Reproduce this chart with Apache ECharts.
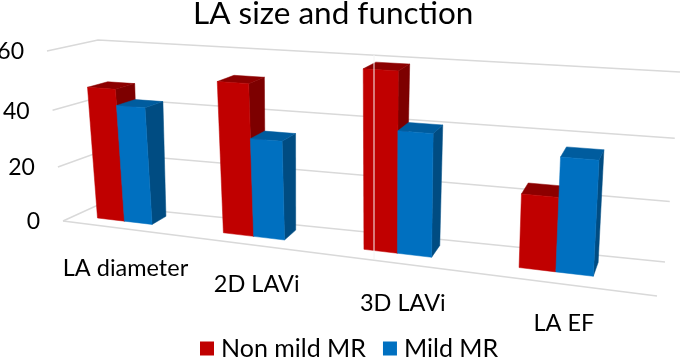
<!DOCTYPE html>
<html><head><meta charset="utf-8">
<style>html,body{margin:0;padding:0;background:#fff}#c{width:685px;height:357px}</style>
<script src="https://cdn.jsdelivr.net/npm/echarts@6/dist/echarts.min.js"></script>
</head><body><div id="c"></div>
<script>
const categories = ['LA diameter','2D LAVi','3D LAVi','LA EF'];
const nonMildMR = [47,52,59,24];
const mildMR = [41.5,34,40.5,36.5];
const yTicks = [0,20,40,60];

const chart = echarts.init(document.getElementById('c'),null,{renderer:'canvas'});
const W=685,H=357;
// screen corners of the tilted 3D box
const box = {
  f0l:[63,221], f0r:[657,296], f1l:[47,51], f1r:[674,91],
  b0l:[98,205], b0r:[665,262], b1l:[98,40], b1r:[680,72]
};
const lerp=(a,b,t)=>[a[0]+(b[0]-a[0])*t,a[1]+(b[1]-a[1])*t];
function project(u,v,z){
  const vv=v*(0.93+0.07*v);
  const f=lerp(lerp(box.f0l,box.f0r,u),lerp(box.f1l,box.f1r,u),vv);
  const b=lerp(lerp(box.b0l,box.b0r,u),lerp(box.b1l,box.b1r,u),vv);
  return lerp(f,b,z);
}
const warp=u=>-0.017+0.784*u+0.2*u*u;
const norm=(pt)=>[pt[0]/W,(H-pt[1])/H];
const Z0=0.35,Z1=0.79,BAR=0.056,LEAN=3.5;

function poly(pts,color){return {type:'polygon',shape:{points:pts},style:{fill:color,stroke:color,lineWidth:0.5}};}

function barItem(side,colors){
  return function(params,api){
    const c=norm(api.coord([api.value(0),api.value(1)]));
    const u0=warp(side<0?c[0]-BAR:c[0]), u1=warp(side<0?c[0]:c[0]+BAR), v=c[1];
    const p=(u,vv,z)=>{const q=project(u,vv,z);return [q[0]-LEAN*vv,q[1]];};
    return {type:'group',children:[
      poly([p(u1,0,Z0),p(u1,0,Z1),p(u1,v,Z1),p(u1,v,Z0)],colors.side),
      poly([p(u0,v,Z0),p(u1,v,Z0),p(u1,v,Z1),p(u0,v,Z1)],colors.top),
      poly([p(u0,0,Z0),p(u1,0,Z0),p(u1,v,Z0),p(u0,v,Z0)],colors.front)
    ]};
  };
}
const GRID='#d9d9d9';
function gridItem(params,api){
  const t=api.value(1), v=norm(api.coord([0,t]))[1];
  const a=project(0,v,0), b=project(0,v,1), c=project(1,v,1);
  const kids=[{type:'polyline',shape:{points:[a,b,c]},style:{stroke:GRID,lineWidth:1.5,fill:null}},
    {type:'text',style:{text:String(t),x:a[0]-23,y:a[1]+1,textAlign:'right',textVerticalAlign:'middle',
      font:'23px Lato, sans-serif',fill:'#000'}}];
  if(t===0){const d=project(1,0,0);kids.push({type:'line',shape:{x1:a[0],y1:a[1],x2:d[0],y2:d[1]},style:{stroke:GRID,lineWidth:1.5}});}
  return {type:'group',children:kids};
}
function catItem(params,api){
  const c=norm(api.coord([api.value(0),0]));
  const p=project(warp(c[0]),0,0);
  return {type:'text',style:{text:categories[api.value(0)],x:p[0]+12.5,y:p[1]+41,textAlign:'center',textVerticalAlign:'middle',
    font:'23.5px Lato, sans-serif',fill:'#000'}};
}
const red={front:'#c00000',top:'#8c0000',side:'#7d0000'};
const blue={front:'#0070c0',top:'#005c9e',side:'#004c82'};
chart.setOption({
  animation:false,
  backgroundColor:'#fff',
  title:{text:'LA size and function',left:193,top:-2,
    textStyle:{fontFamily:'Lato, sans-serif',fontWeight:'normal',fontSize:31.5,color:'#000'},padding:[0,0,0,0],itemGap:0},
  legend:{data:['Non mild MR','Mild MR'],left:200,top:336,icon:'rect',itemWidth:14,itemHeight:14,itemGap:17,
    textStyle:{fontFamily:'Lato, sans-serif',fontSize:25,color:'#000',padding:[0,0,0,2]},padding:0},
  grid:{left:0,right:0,top:0,bottom:0},
  xAxis:{type:'category',data:categories,show:false},
  yAxis:{type:'value',min:0,max:60,interval:20,show:false},
  series:[
    {type:'custom',renderItem:gridItem,data:yTicks.map(t=>[0,t]),silent:true,z:1},
    {type:'custom',renderItem:catItem,data:categories.map((c,i)=>[i,0]),silent:true,z:1},
    {type:'custom',name:'Non mild MR',renderItem:barItem(-1,red),data:nonMildMR.map((v,i)=>[i,v]),itemStyle:{color:red.front},z:2,encode:{x:0,y:1}},
    {type:'custom',name:'Mild MR',renderItem:barItem(1,blue),data:mildMR.map((v,i)=>[i,v]),itemStyle:{color:blue.front},z:3,encode:{x:0,y:1}}
  ],
  graphic:[{type:'line',z:10,silent:true,shape:{x1:374,y1:55,x2:374,y2:259},style:{stroke:'#f4f4f4',lineWidth:1}}]
});
</script></body></html>
